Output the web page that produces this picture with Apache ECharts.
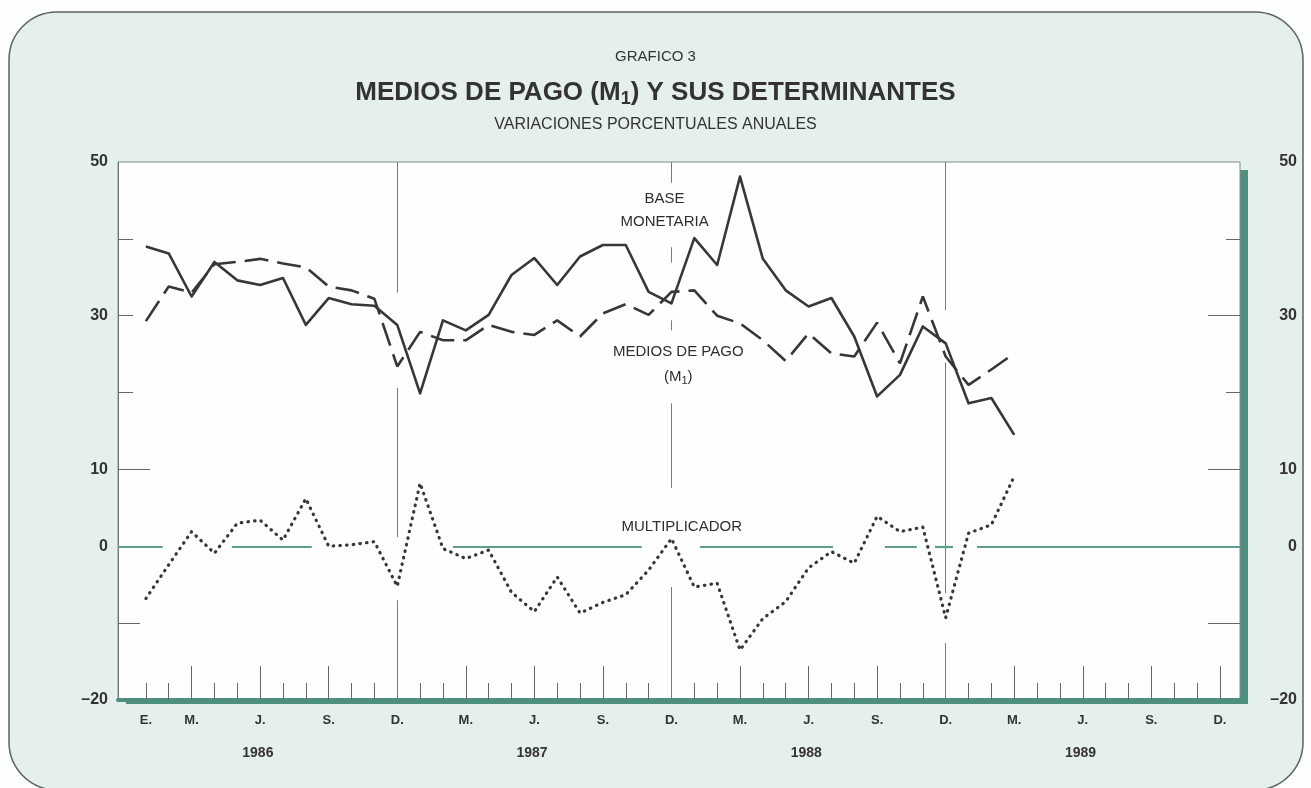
<!DOCTYPE html>
<html><head><meta charset="utf-8">
<script src="https://cdn.jsdelivr.net/npm/echarts@6/dist/echarts.min.js"></script>
<style>html,body{margin:0;padding:0;background:#fcfdfd;} #c{width:1311px;height:788px;}</style>
</head><body><div id="c"></div>
<script>
// ---- DATA ----
const monthAbbrev = ['E.','F.','M.','A.','M.','J.','J.','A.','S.','O.','N.','D.'];
const years = ['1986','1987','1988','1989'];
// months E.1986 ... M.1989 (39 observations)
const baseMonetaria = [39.0,38.1,32.5,37.0,34.6,34.0,34.9,28.8,32.3,31.5,31.3,28.8,
  19.9,29.4,28.1,30.1,35.3,37.5,34.0,37.7,39.2,39.2,33.1,31.6,
  40.1,36.6,48.1,37.4,33.3,31.2,32.3,27.3,19.5,22.3,28.6,26.4,
  18.6,19.3,14.5];
const mediosDePago = [29.3,33.8,33.0,36.7,37.0,37.4,36.8,36.3,33.8,33.3,32.2,23.4,
  27.9,26.8,26.8,28.8,27.9,27.5,29.4,27.3,30.3,31.5,30.1,33.1,
  33.3,30.0,29.0,26.8,24.1,27.7,25.1,24.7,29.1,23.8,32.5,24.7,
  21.0,23.0,25.1];
const multiplicador = [-6.8,-2.4,1.9,-0.9,3.0,3.4,0.8,6.2,0.0,0.2,0.6,-5.2,
  8.2,-0.3,-1.6,-0.5,-6.0,-8.5,-4.0,-8.7,-7.3,-6.3,-3.1,1.0,
  -5.3,-4.8,-13.5,-9.4,-7.2,-2.8,-0.7,-2.2,3.9,1.9,2.5,-9.3,
  1.7,2.8,9.1];
const yLabelValues = [50,30,10,0,-20];
const seriesLabels = [['BASE',22.7,45.2],['MONETARIA',22.7,42.2],['MEDIOS DE PAGO',23.3,25.3],['(M{s|1})',23.3,22.0],['MULTIPLICADOR',23.45,2.55]];

// ---- layout / style helpers ----
const nMonths = years.length*12;
const allMonths = Array.from({length:nMonths},(_, i)=>i);
const quarterMonths = allMonths.filter(i=> i%3===2);
const monthLabelVals = [0].concat(quarterMonths);
const yearVals = years.map((y,k)=>k*12+4.9);
const toPairs = arr => arr.map((v,i)=>[i,v]);
const XMIN = -1.22, XMAX = 47.88;
const INK = '#363837', GREEN = '#4f8f7f';
const font = '"Liberation Sans", Arial, sans-serif';

// vertical year-end lines (drawn with gaps as in the printed chart)
const vSegs = [[11,50,33],[11,20.6,1.2],[11,-7,-20],
  [23,50,47.3],[23,38.9,36.9],[23,29.4,28.1],[23,18.6,7.6],[23,-5.3,-20],
  [35,50,30.7],[35,23.9,-6.1],[35,-12.6,-20]];
const zeroSegs = [[XMIN,0.74],[3.76,7.26],[13.44,21.7],[24.25,30.07],[32.34,33.74],[34.53,35.32],[36.37,XMAX]];

const yBase = {type:'value', min:-20, max:50, interval:10, splitLine:{show:false}};
function yAx(extra){ const o = Object.assign({}, yBase, extra); o.axisLine = Object.assign({onZero:false}, extra.axisLine||{}); return o; }
const xBase = {type:'value', min:XMIN, max:XMAX, splitLine:{show:false}, position:'bottom'};
function xAx(extra){ const o = Object.assign({}, xBase, extra); o.axisLine = Object.assign({onZero:false}, extra.axisLine||{}); return o; }

const chart = echarts.init(document.getElementById('c'));
chart.setOption({
  animation:false,
  backgroundColor:'#fcfdfd',
  textStyle:{fontFamily:font},
  graphic:[
    {type:'rect', z:-10, silent:true,
      shape:{x:9,y:12,width:1294,height:778,r:48},
      style:{fill:'#e5efec', stroke:'#5c6360', lineWidth:1.5}},
    {type:'rect', z:-5, silent:true,
      shape:{x:126,y:170,width:1122,height:534},
      style:{fill:GREEN}}
  ],
  title:[
    {text:'GRAFICO 3', left:'center', top:44, textStyle:{fontSize:15, fontWeight:'normal', color:'#333', fontFamily:font}},
    {text:'MEDIOS DE PAGO (M{s|1}) Y SUS DETERMINANTES', left:'center', top:73,
      textStyle:{fontSize:26, fontWeight:'bold', color:'#333', fontFamily:font,
        rich:{s:{fontSize:18, fontWeight:'bold', color:'#333', fontFamily:font, padding:[12,0,0,0]}}}},
    {text:'VARIACIONES PORCENTUALES ANUALES', left:'center', top:112, textStyle:{fontSize:16, fontWeight:'normal', color:'#333', fontFamily:font}}
  ],
  grid:{left:118, top:162, right:71, bottom:88, show:true, backgroundColor:'#fefefe',
    borderColor:'#7d8f8a', borderWidth:1, containLabel:false, outerBoundsMode:'none'},
  xAxis:[
    xAx({axisLine:{show:true, lineStyle:{color:GREEN, width:4}},
      axisTick:{show:true, inside:true, length:17, customValues:allMonths, lineStyle:{color:'#666', width:1}},
      axisLabel:{show:true, customValues:monthLabelVals, margin:14, fontSize:13, fontWeight:'bold', color:'#333',
        formatter:v=>monthAbbrev[((Math.round(v)%12)+12)%12]}}),
    xAx({axisLine:{show:false}, axisTick:{show:true, inside:true, length:34, customValues:quarterMonths, lineStyle:{color:'#666', width:1}},
      axisLabel:{show:false}}),
    xAx({axisLine:{show:false}, axisTick:{show:false},
      axisLabel:{show:true, customValues:yearVals, margin:46, fontSize:14, fontWeight:'bold', color:'#333',
        formatter:v=>years[Math.floor(v/12)]}})
  ],
  yAxis:[
    yAx({position:'left', axisLine:{show:true, lineStyle:{color:'#6f7d79', width:1}},
      axisTick:{show:true, inside:true, length:15, customValues:[40,30,20], lineStyle:{color:'#666'}},
      axisLabel:{show:true, customValues:yLabelValues, margin:10, fontSize:16, fontWeight:'bold', color:'#333',
        formatter:v=> v<0 ? '\u2013'+Math.abs(v) : String(v)}}),
    yAx({position:'left', axisLine:{show:false}, axisTick:{show:true, inside:true, length:32, customValues:[10], lineStyle:{color:'#666'}}, axisLabel:{show:false}}),
    yAx({position:'left', axisLine:{show:false}, axisTick:{show:true, inside:true, length:22, customValues:[-10], lineStyle:{color:'#666'}}, axisLabel:{show:false}}),
    yAx({position:'right', axisLine:{show:false}, axisTick:{show:true, inside:true, length:14, customValues:[40,20], lineStyle:{color:'#666'}},
      axisLabel:{show:true, customValues:yLabelValues, margin:57, align:'right', fontSize:16, fontWeight:'bold', color:'#333',
        formatter:v=> v<0 ? '\u2013'+Math.abs(v) : String(v)}}),
    yAx({position:'right', axisLine:{show:false}, axisTick:{show:true, inside:true, length:32, customValues:[30,10,-10], lineStyle:{color:'#666'}}, axisLabel:{show:false}})
  ],
  series:[
    {type:'line', data:[], z:1, silent:true,
      markLine:{silent:true, symbol:['none','none'], label:{show:false}, animation:false,
        lineStyle:{color:'#7a7a7a', width:1, type:'solid'},
        data:vSegs.map(s=>[{coord:[s[0],s[1]]},{coord:[s[0],s[2]]}])}},
    {type:'line', data:[], z:1, silent:true,
      markLine:{silent:true, symbol:['none','none'], label:{show:false}, animation:false,
        lineStyle:{color:'#5f9d8d', width:2.2, type:'solid'},
        data:zeroSegs.map(s=>[{coord:[s[0],0]},{coord:[s[1],0]}])}},
    {name:'Base monetaria', type:'line', data:toPairs(baseMonetaria), showSymbol:false, symbol:'none', z:3,
      lineStyle:{color:INK, width:2.6, join:'round'}},
    {name:'Medios de pago', type:'line', data:toPairs(mediosDePago), showSymbol:false, symbol:'none', z:3,
      lineStyle:{color:INK, width:2.6, type:[24,9]}},
    {name:'Multiplicador', type:'line', data:toPairs(multiplicador), showSymbol:false, symbol:'none', z:3,
      lineStyle:{color:INK, width:3.2, type:[0.5,6.2], cap:'round'}},
    {type:'scatter', symbolSize:0, z:4, silent:true, itemStyle:{color:'#333', opacity:1},
      data:seriesLabels.map(a=>({value:[a[1],a[2]], name:a[0]})),
      label:{show:true, position:'inside', formatter:p=>p.name, fontSize:15, color:'#2e2e2e', fontFamily:font,
        textBorderWidth:0, textBorderColor:'transparent', opacity:1,
        rich:{s:{fontSize:11, color:'#2e2e2e', padding:[8,0,0,0]}}}}
  ]
});
</script></body></html>
